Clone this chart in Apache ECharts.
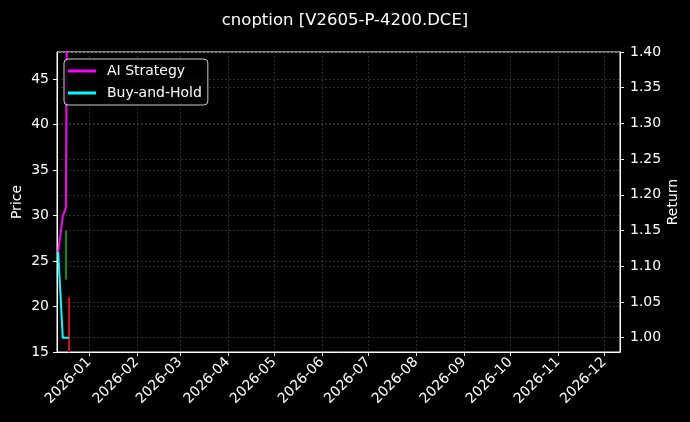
<!DOCTYPE html>
<html>
<head>
<meta charset="utf-8">
<script src="https://cdn.jsdelivr.net/npm/echarts@6/dist/echarts.min.js"></script>
<style>
html,body{margin:0;padding:0;background:#000;}
#c{width:690px;height:422px;}
</style>
</head>
<body>
<div id="c"></div>
<script>
// ---- data ----
const dates = ['2025-12-12', '2025-12-15', '2025-12-17', '2025-12-19'];
const aiStrategy = [1.12, 1.17, 1.182, 2.0];
const buyHold = [1.12, 1.00, 1.00, 1.00];
const candleDates = ['2025-12-17', '2025-12-19'];
// [open, close, low, high]
const candleOHLC = [[23.0, 28.3, 23.0, 28.3], [21.0, 15.0, 15.0, 21.0]];
const xRange = ['2025-12-11 06:00', '2026-12-11 05:00'];
const title = 'cnoption [V2605-P-4200.DCE]';

function ts(s) {
  const [d, t] = s.split(' ');
  const [y, m, dd] = d.split('-').map(Number);
  let h = 0;
  if (t) h = Number(t.split(':')[0]);
  return new Date(y, m - 1, dd, h).getTime();
}
const pad = n => (n < 10 ? '0' : '') + n;
const FONT = 'DejaVu Sans';

const chart = echarts.init(document.getElementById('c'), null, {renderer: 'canvas'});
const gridLine = {show: true, lineStyle: {color: '#3a3a3a', type: [2, 2], width: 0.8}};

chart.setOption({
  backgroundColor: '#000',
  animation: false,
  textStyle: {fontFamily: FONT},
  title: {
    text: title, left: 'center', top: 7,
    textStyle: {color: '#fff', fontSize: 16.5, fontWeight: 'normal', fontFamily: FONT}
  },
  grid: {left: 57, right: 70, top: 52, bottom: 70, show: true, borderColor: '#fff', borderWidth: 1,
    containLabel: false, outerBoundsMode: 'none'},
  legend: {
    left: 64, top: 59, orient: 'vertical',
    backgroundColor: 'rgba(0,0,0,0.8)', borderColor: '#ccc', borderWidth: 1, borderRadius: 4,
    padding: [5, 6, 5, 4], itemGap: 8, itemWidth: 28, itemHeight: 3,
    textStyle: {color: '#fff', fontSize: 14, fontFamily: FONT, padding: [0, 0, 0, 6]},
    data: [
      {name: 'AI Strategy', icon: 'rect'},
      {name: 'Buy-and-Hold', icon: 'rect'}
    ]
  },
  xAxis: {
    type: 'time',
    min: ts(xRange[0]), max: ts(xRange[1]),
    splitNumber: 12,
    minInterval: 28 * 86400000,
    maxInterval: 31 * 86400000,
    axisLine: {show: true, lineStyle: {color: '#fff'}},
    axisTick: {show: true, length: 4, lineStyle: {color: '#fff'}},
    axisLabel: {
      color: '#fff', fontSize: 14, rotate: 45, fontFamily: FONT,
      showMinLabel: false, showMaxLabel: false,
      formatter: v => { const d = new Date(v); return d.getFullYear() + '-' + pad(d.getMonth() + 1); }
    },
    splitLine: gridLine
  },
  yAxis: [
    {
      type: 'value', min: 15, max: 48, interval: 5,
      name: 'Price', nameLocation: 'middle', nameGap: 33, nameRotate: 90, nameMoveOverlap: false,
      nameTextStyle: {color: '#fff', fontSize: 14, fontFamily: FONT},
      axisLine: {show: true, lineStyle: {color: '#fff'}},
      axisTick: {show: true, length: 4, lineStyle: {color: '#fff'}},
      axisLabel: {color: '#fff', fontSize: 14, showMaxLabel: false, fontFamily: FONT},
      splitLine: gridLine
    },
    {
      type: 'value', min: 0.98, max: 1.40, splitNumber: 8,
      position: 'right',
      name: 'Return', nameLocation: 'middle', nameGap: 46, nameRotate: 90, nameMoveOverlap: false,
      nameTextStyle: {color: '#fff', fontSize: 14, fontFamily: FONT},
      axisLine: {show: true, lineStyle: {color: '#fff'}},
      axisTick: {show: true, length: 4, lineStyle: {color: '#fff'}},
      axisLabel: {color: '#fff', fontSize: 14, margin: 10, showMinLabel: false, fontFamily: FONT,
        formatter: v => v.toFixed(2)},
      splitLine: gridLine
    }
  ],
  series: [
    {
      type: 'candlestick', name: 'Price', yAxisIndex: 0, xAxisIndex: 0,
      barWidth: 2, clip: true,
      encode: {x: 0, y: [1, 2, 3, 4]},
      data: candleDates.map((d, i) => [ts(d)].concat(candleOHLC[i])),
      itemStyle: {color: '#138a13', borderColor: '#138a13', color0: '#d01010', borderColor0: '#d01010', borderWidth: 1}
    },
    {
      type: 'line', name: 'AI Strategy', yAxisIndex: 1, symbol: 'none',
      lineStyle: {color: '#ff00ff', width: 2}, itemStyle: {color: '#ff00ff'},
      data: dates.map((d, i) => [ts(d), aiStrategy[i]])
    },
    {
      type: 'line', name: 'Buy-and-Hold', yAxisIndex: 1, symbol: 'none',
      lineStyle: {color: '#00ffff', width: 2}, itemStyle: {color: '#00ffff'},
      data: dates.map((d, i) => [ts(d), buyHold[i]])
    }
  ]
});
</script>
</body>
</html>
